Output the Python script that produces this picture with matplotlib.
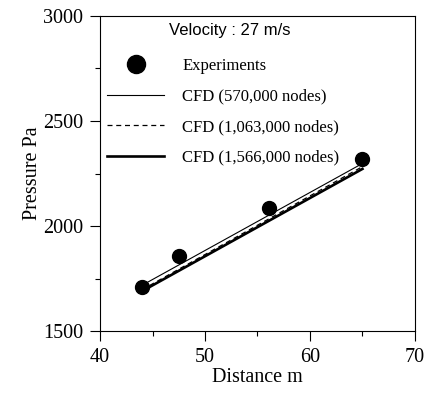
import matplotlib.pyplot as plt
from matplotlib.ticker import MultipleLocator

# experimental points
exp_x = [44.0, 47.5, 56.1, 65.0]
exp_p = [1708, 1856, 2085, 2317]

# CFD lines for the three meshes
cfd_x = [44.0, 65.0]
cfd_570k = [1718, 2298]
cfd_1063k = [1697, 2283]
cfd_1566k = [1690, 2272]

labels = ["Experiments", "CFD (570,000 nodes)", "CFD (1,063,000 nodes)", "CFD (1,566,000 nodes)"]

serif = ["Liberation Serif", "DejaVu Serif"]
sans = ["Liberation Sans", "DejaVu Sans"]

fig = plt.figure(figsize=(4.3, 3.98), dpi=100)
ax = fig.add_axes([0.2326, 0.168, 0.7324, 0.792])

ax.plot(exp_x, exp_p, "o", color="black", markersize=10, label=labels[0], zorder=3)
ax.plot(cfd_x, cfd_570k, "-", color="black", lw=0.8, label=labels[1])
ax.plot(cfd_x, cfd_1063k, "--", color="black", lw=0.9, dashes=(4, 3), label=labels[2])
ax.plot(cfd_x, cfd_1566k, "-", color="black", lw=1.9, label=labels[3])

ax.set_xlim(40, 70)
ax.set_ylim(1500, 3000)
ax.xaxis.set_major_locator(MultipleLocator(10))
ax.xaxis.set_minor_locator(MultipleLocator(5))
ax.yaxis.set_major_locator(MultipleLocator(500))
ax.yaxis.set_minor_locator(MultipleLocator(250))
ax.tick_params(which="major", direction="out", length=7, width=0.8, labelsize=14.5, pad=5)
ax.tick_params(which="minor", direction="out", length=3.5, width=0.8)
for lab in ax.get_xticklabels() + ax.get_yticklabels():
    lab.set_family(serif)

ax.set_xlabel("Distance m", family=serif, fontsize=14.5, labelpad=1)
ax.set_ylabel("Pressure Pa", family=serif, fontsize=14.5, labelpad=1)

ax.text(0.413, 0.953, "Velocity : 27 m/s", transform=ax.transAxes, ha="center", va="center",
        family=sans, fontsize=12)
ax.legend(loc="upper left", bbox_to_anchor=(0.013, 0.878), frameon=False,
          prop={"family": serif, "size": 12},
          handlelength=3.4, handletextpad=1.1, labelspacing=0.88,
          markerscale=1.3, borderpad=0.0, borderaxespad=0.2)

fig.savefig("out.png", dpi=100)
